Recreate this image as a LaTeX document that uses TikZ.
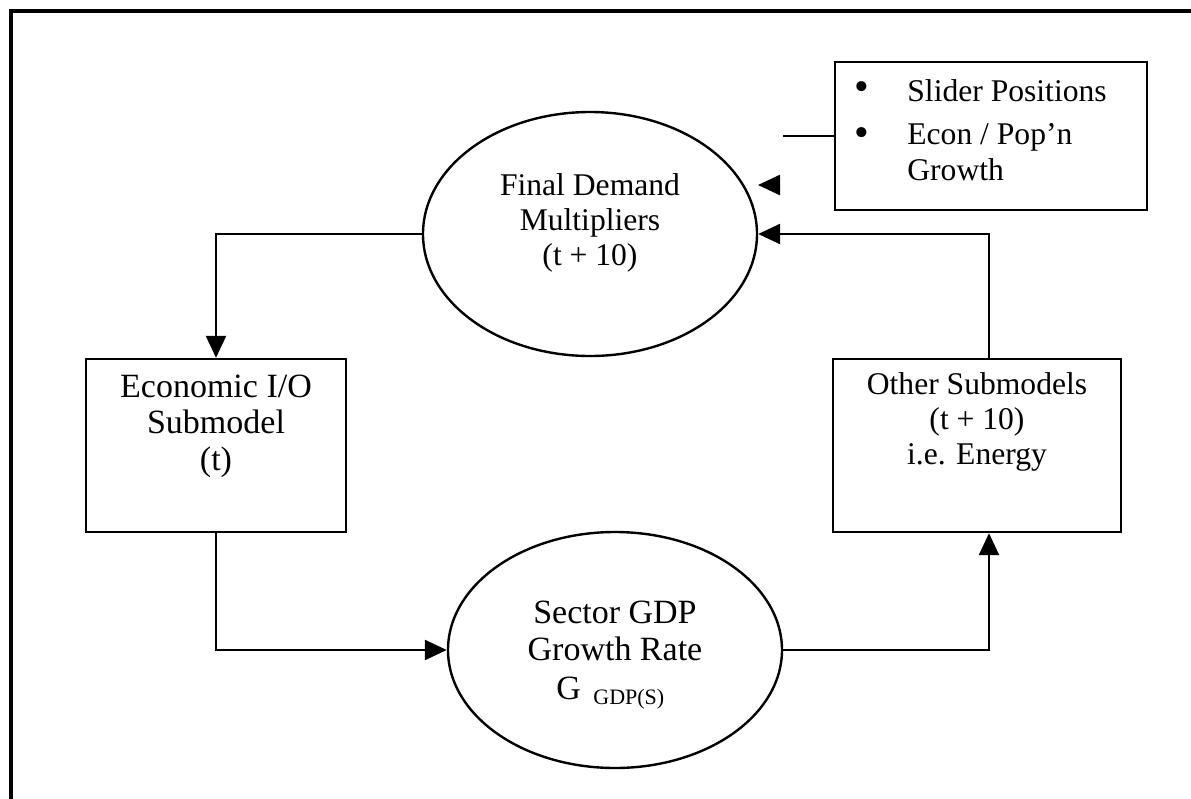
\documentclass[tikz,border=0pt]{standalone}
\usepackage{fontspec}
\setmainfont{Liberation Serif}
\usetikzlibrary{shapes.geometric,arrows.meta}
\begin{document}
\begin{tikzpicture}[x=0.5pt,y=-0.5pt,
  line/.style={line width=1.2pt},
  flow/.style={line width=1.2pt,-{Triangle[length=11pt,width=10pt]}},
  oval/.style={draw,ellipse,line width=1.2pt,minimum width=167pt,inner sep=0pt},
  panel/.style={draw,rectangle,line width=1.2pt,inner sep=0pt},
  bigtxt/.style={align=center,font=\fontsize{17}{18.3}\selectfont,inner sep=0pt},
  smalltxt/.style={align=center,font=\fontsize{15.8}{17.5}\selectfont,inner sep=0pt},
  listtxt/.style={anchor=west,font=\fontsize{15.8}{17.5}\selectfont,inner sep=0pt},
  bulletmark/.style={inner sep=0pt,font=\fontsize{21}{21}\selectfont}
]
\useasboundingbox (0,0) rectangle (1191,799);
% page frame (top and left edges)
\draw[line width=1.6pt] (1191,11) -- (11,11) -- (11,799);

% shapes
\node[oval,minimum height=122pt] (fdm) at (590,234) {};
\node[oval,minimum height=118pt] (gdp) at (615,650) {};
\node[panel,minimum width=130pt,minimum height=86.5pt] (eio) at (216,445.5) {};
\node[panel,minimum width=144pt,minimum height=86.5pt] (oth) at (977,445.5) {};
\node[panel,minimum width=156pt,minimum height=74pt] (sld) at (991,136) {};

% texts
\node[smalltxt] (fdmtxt) at (590,223) {Final Demand\\Multipliers\\(t + 10)};
\node[bigtxt] (eiotxt) at (216,426) {Economic I/O\\Submodel\\(t)};
\node[smalltxt] (othtxt) at (977,422) {Other Submodels\\(t + 10)\\i.e. Energy};
\node[bigtxt] (gdptxt) at (615,631) {Sector GDP\\Growth Rate};
\node[bigtxt,anchor=base west] (gsym) at (556,699) {G};
\node[anchor=base west,inner sep=0pt,font=\fontsize{11}{12}\selectfont] (gsub) at (593,704) {GDP(S)};

\node[bulletmark] (b1) at (862,91) {\textbullet};
\node[bulletmark] (b2) at (862,137) {\textbullet};
\node[listtxt] (l1) at (907,91) {Slider Positions};
\node[listtxt] (l2) at (907,137) {Econ / Pop’n};
\node[listtxt] (l3) at (907,170) {Growth};

% connectors
\draw[flow] (fdm.west) -| (eio.north);
\draw[flow] (eio.south) |- (gdp.west);
\draw[flow] (gdp.east) -| ([xshift=6pt]oth.south);
\draw[flow] ([xshift=6pt]oth.north) |- (fdm.east);
\coordinate (sldend) at (783,136);
\draw[line] (sld.west) -- (sldend);
\coordinate (tipA) at (780,185);
\coordinate (tipB) at (758,185);
\draw[flow] (tipA) -- (tipB);
\end{tikzpicture}
\end{document}
